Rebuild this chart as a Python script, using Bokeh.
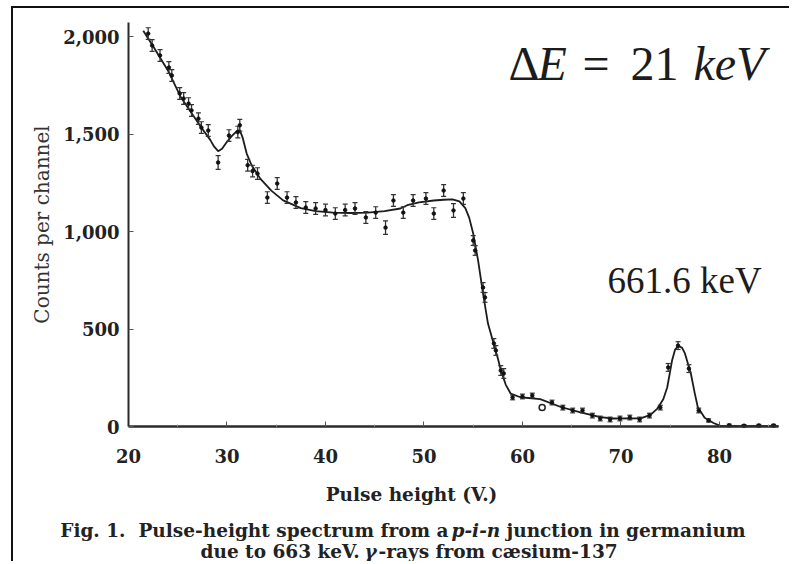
import numpy as np
from bokeh.plotting import figure
from bokeh.models import Range1d, Label, FixedTicker, NumeralTickFormatter
from bokeh.embed import file_html
from bokeh.resources import INLINE

# ---- fitted curve ----
curve_x = [21.5, 22.5, 24.0, 25.3, 26.5, 27.3, 28.3, 28.7, 29.1, 29.5, 30.0, 30.5,
           31.0, 31.3, 31.6, 32.0, 32.5, 33.4, 34.5, 35.7, 37.5, 39.0, 40.8, 42.5,
           44.3, 46.0, 47.6, 48.3, 49.5, 51.0, 52.0, 52.9, 53.6, 54.2, 54.6, 55.0,
           55.5, 56.0, 56.5, 57.1, 57.5, 57.8, 58.3, 58.8, 59.8, 61.8, 63.9, 65.9,
           67.9, 69.2, 72.0, 73.0, 73.7, 74.3, 74.7, 75.2, 75.5, 75.8, 76.2, 76.5,
           77.1, 77.5, 77.8, 78.5, 79.4, 80.1, 82.0, 84.0, 86.0]
curve_y = [2030, 1950, 1826, 1690, 1600, 1540, 1470, 1435, 1412, 1425, 1460, 1490,
           1515, 1520, 1480, 1400, 1340, 1270, 1210, 1160, 1120, 1105, 1097, 1095,
           1097, 1105, 1118, 1135, 1150, 1159, 1163, 1165, 1155, 1120, 1070, 990,
           851, 682, 528, 420, 350, 290, 215, 169, 150, 140, 100, 72,
           48, 41, 42, 60, 92, 140, 200, 340, 395, 412, 405, 375,
           272, 170, 100, 45, 18, 3, 2, 2, 2]

# ---- measured points with error bars ----
pts_x = [22.0, 22.4, 23.2, 24.1, 24.4, 25.2, 25.6, 26.1, 26.4, 27.1, 27.4, 28.1,
         29.1, 30.2, 31.1, 31.3, 32.1, 32.6, 33.1, 34.1, 35.1, 36.1, 37.0, 38.0,
         39.0, 40.0, 41.0, 42.0, 43.0, 44.1, 45.1, 46.1, 46.9, 47.9, 48.9, 50.2,
         51.0, 52.0, 53.0, 54.0, 55.0, 55.2, 56.0, 56.2, 57.1, 57.3, 57.8, 58.1,
         59.0, 60.0, 61.0, 62.0, 63.0, 64.1, 65.1, 66.1, 67.1, 67.9, 68.9, 69.9,
         70.9, 71.9, 72.9, 74.0, 74.8, 75.8, 76.9, 77.9, 78.9, 81.0, 82.5, 84.0, 85.5]
pts_y = [2015, 1954, 1903, 1841, 1800, 1708, 1682, 1656, 1621, 1579, 1533, 1518,
         1354, 1492, 1510, 1545, 1340, 1310, 1297, 1174, 1246, 1174, 1149, 1123,
         1118, 1110, 1092, 1110, 1118, 1072, 1097, 1020, 1159, 1097, 1159, 1169,
         1092, 1210, 1108, 1169, 954, 903, 713, 662, 426, 390, 287, 272,
         149, 154, 159, 97, 123, 97, 82, 82, 56, 41, 36, 41,
         46, 36, 56, 97, 303, 415, 297, 82, 31, 6, 4, 5, 5]
pts_err = [30, 30, 30, 30, 30, 30, 30, 30, 30, 30, 30, 30,
           35, 30, 30, 30, 30, 30, 30, 30, 30, 30, 30, 30,
           30, 30, 30, 30, 30, 30, 30, 35, 30, 30, 30, 30,
           30, 30, 35, 30, 25, 25, 25, 25, 25, 25, 25, 25,
           12, 12, 12, 12, 12, 12, 12, 12, 12, 12, 12, 12,
           12, 12, 12, 12, 20, 20, 20, 12, 8, 6, 6, 6, 6]
open_point = 51  # the single hollow point at 62 V

x_ticks = [20, 30, 40, 50, 60, 70, 80]
x_minor = [25, 35, 45, 55, 65, 75, 85]
y_ticks = [0, 500, 1000, 1500, 2000]
x_bounds = (20, 86)
y_bounds = (0, 2072)

INK = "#1c1c1c"
TXT = "#222222"

# ---- page geometry ----
# canvas sits at page (OX, OY) inside a thin left/top rule;
# the plotted area maps x=20 -> page x 128, x=86 -> 778, y=0 -> page y 426, y=2072 -> 22
OX, OY = 13, 8
W, H = 778, 555
KX = (x_bounds[1] - x_bounds[0]) / 650.0   # data units per pixel
KY = (y_bounds[1] - y_bounds[0]) / 404.0
x_start = x_bounds[0] - (128 - OX) * KX
x_end = x_start + W * KX
y_end = y_bounds[0] + (426 - OY) * KY
y_start = y_end - H * KY

p = figure(width=W, height=H, x_range=Range1d(x_start, x_end), y_range=Range1d(y_start, y_end),
           output_backend="svg", toolbar_location=None, min_border=0)
p.styles = {"margin-left": "11px", "margin-top": "6px",
            "border-left": "2px solid #111111", "border-top": "2px solid #111111"}
p.outline_line_color = None
p.grid.visible = False
p.background_fill_color = "white"
p.border_fill_color = "white"

# x axis, crossing at y = 0
xa = p.xaxis[0]
xa.fixed_location = 0
xa.bounds = x_bounds
xa.ticker = FixedTicker(ticks=x_ticks, minor_ticks=x_minor)
xa.axis_line_width = 2.5
xa.axis_line_color = "#2a2a2a"
xa.major_tick_in = 5
xa.major_tick_out = 0
xa.major_tick_line_color = "#555555"
xa.minor_tick_in = 2
xa.minor_tick_out = 0
xa.minor_tick_line_color = "#999999"
xa.major_label_text_font = "DejaVu Serif"
xa.major_label_text_font_style = "bold"
xa.major_label_text_font_size = "18px"
xa.major_label_text_color = TXT
xa.major_label_standoff = 22

# y axis, crossing at x = 20
ya = p.yaxis[0]
ya.fixed_location = 20
ya.bounds = y_bounds
ya.ticker = FixedTicker(ticks=y_ticks)
ya.formatter = NumeralTickFormatter(format="0,0")
ya.axis_line_width = 2
ya.axis_line_color = "#2a2a2a"
ya.major_tick_in = 5
ya.major_tick_out = 0
ya.major_tick_line_color = "#555555"
ya.minor_tick_line_color = None
ya.major_label_text_font = "DejaVu Serif"
ya.major_label_text_font_style = "bold"
ya.major_label_text_font_size = "18px"
ya.major_label_text_color = TXT
ya.major_label_standoff = 9
ya.axis_label = "Counts per channel"
ya.axis_label_text_font = "DejaVu Serif"
ya.axis_label_text_font_style = "normal"
ya.axis_label_text_font_size = "20px"
ya.axis_label_text_color = "#333333"
ya.axis_label_standoff = 6

# fitted curve
p.line(curve_x, curve_y, line_width=1.8, color=INK)

# error bars and points
px_ = np.array(pts_x)
py_ = np.array(pts_y)
pe_ = np.array(pts_err)
lo = py_ - pe_
hi = py_ + pe_
p.segment(x0=px_, y0=lo, x1=px_, y1=hi, line_width=1.3, color="#333333")
p.scatter(px_, hi, marker="dash", size=5, line_width=1.2, color="#333333")
p.scatter(px_, lo, marker="dash", size=5, line_width=1.2, color="#333333")
p.scatter(px_, py_, size=3.5, color="#111111")
p.scatter([pts_x[open_point]], [pts_y[open_point]], size=6, fill_color="white",
          line_color="#222222", line_width=1.5)


def dx(page_x):
    return x_bounds[0] + (page_x - 128) * KX


def dy(page_y):
    return y_bounds[0] + (426 - page_y) * KY


def lab(text, px, py, size, font="DejaVu Serif", style="normal", align="left", color=INK):
    p.add_layout(Label(x=dx(px), y=dy(py), text=text, text_font=font,
                       text_font_style=style, text_font_size=f"{size}px",
                       text_align=align, text_baseline="alphabetic", text_color=color))


# annotations inside the plot
lab("Δ", 508, 63, 48, font="Liberation Serif")
lab("E", 537, 63, 48, font="Liberation Serif", style="italic")
lab("=", 582, 63, 48, font="Liberation Serif")
lab("21", 630, 63, 48, font="Liberation Serif")
lab("keV", 693, 63, 48, font="Liberation Serif", style="italic")
lab("661.6 keV", 607, 280, 37, font="Liberation Serif")

# x axis title and figure caption
lab("Pulse height (V.)", 411, 493.5, 18.5, style="bold", align="center", color=TXT)
lab("Fig. 1.\u00a0 Pulse-height spectrum from a", 448, 529.5, 18.5, style="bold", align="right", color=TXT)
lab("p-i-n", 451, 529.5, 18.5, style="bold italic", color=TXT)
lab("junction in germanium", 506, 529.5, 18.5, style="bold", color=TXT)
lab("due to 663 keV.", 200, 551, 18.5, style="bold", color=TXT)
lab("γ", 364, 551, 18.5, style="bold italic", color=TXT)
lab("-rays from cæsium-137", 378, 551, 18.5, style="bold", color=TXT)

open("out.html", "w").write(file_html(p, INLINE))
